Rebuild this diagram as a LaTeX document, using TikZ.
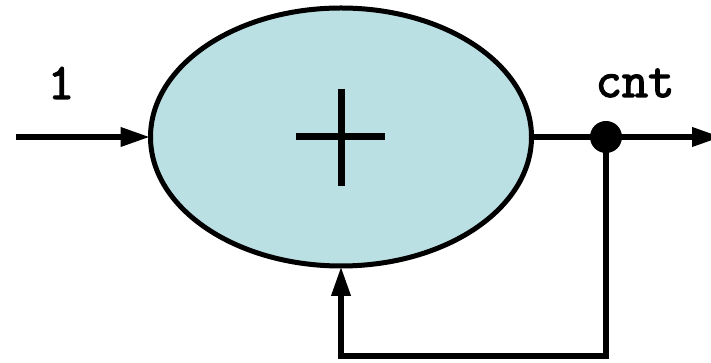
\documentclass[tikz,border=0pt]{standalone}
\usepackage{fontspec}
\newfontfamily\lblfont{Latin Modern Mono}[FakeBold=2.5]
\usetikzlibrary{shapes.geometric,arrows.meta}
\definecolor{sumfill}{RGB}{187,224,228}
\begin{document}
\begin{tikzpicture}[x=1pt,y=1pt,
  wire/.style={line width=6.5pt},
  arr/.style={wire,-{Triangle[length=30pt,width=18pt]}},
  lbl/.style={font=\fontsize{51}{51}\selectfont\lblfont}]
\useasboundingbox (0,0) rectangle (711,363);
\node[ellipse,draw,line width=5pt,fill=sumfill,minimum width=381pt,minimum height=258pt,inner sep=0pt,outer sep=0pt] (sum) at (341,226) {};
\draw[line width=7pt] ([xshift=-45pt]sum.center) -- ([xshift=44pt]sum.center);
\draw[line width=7pt] ([yshift=48pt]sum.center) -- ([yshift=-49pt]sum.center);
\node[circle,fill=black,minimum size=32pt,inner sep=0pt] (dot) at (606,226) {};
\coordinate (in) at (16,226);
\coordinate (out) at (722,226);
\coordinate (fb) at (606,7);
\draw[arr] (in) -- (sum.west);
\draw[wire] (sum.east) -- (dot.center);
\draw[arr] (dot.center) -- (out);
\draw[arr] (dot.center) -- (fb) -| (sum.south);
\node[lbl] (l1) at (61,280) {1};
\node[lbl] (lc) at (635,280) {cnt};
\end{tikzpicture}
\end{document}
